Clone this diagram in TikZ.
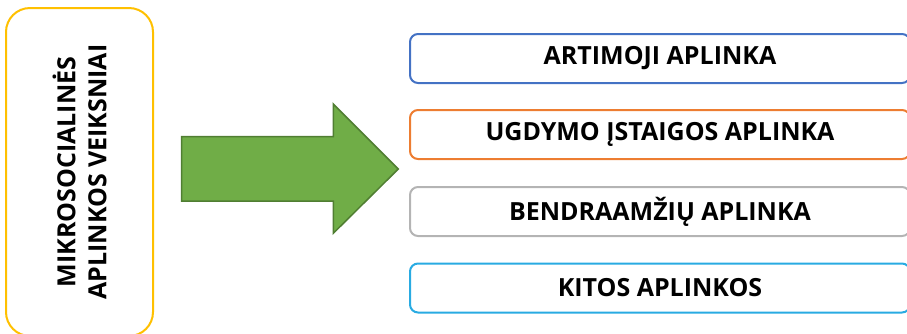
\documentclass[tikz,border=0pt]{standalone}
\usepackage{fontspec}
\setmainfont{Open Sans}
\definecolor{factorgold}{RGB}{255,192,0}
\definecolor{arrowgreen}{RGB}{112,173,71}
\definecolor{arrowedge}{RGB}{80,126,50}
\definecolor{envblue}{RGB}{68,114,196}
\definecolor{envorange}{RGB}{237,125,49}
\definecolor{envgray}{RGB}{180,180,180}
\definecolor{envcyan}{RGB}{41,171,226}
\tikzset{
  factorbox/.style={draw=factorgold, line width=2pt, rounded corners=24pt,
    rotate=90, minimum width=328pt, minimum height=147pt, align=center,
    font=\fontsize{25}{31}\selectfont\bfseries},
  envbox/.style={line width=2pt, rounded corners=8pt, minimum width=500pt,
    minimum height=49pt, inner sep=0pt, font=\fontsize{25}{31}\selectfont\bfseries}
}

\begin{document}
\begin{tikzpicture}[x=1pt,y=-1pt]
  \useasboundingbox (0,0) rectangle (907,333);
  \node[factorbox] (factors) at (79.5,172) {MIKROSOCIALINĖS\\APLINKOS VEIKSNIAI};
  % big arrow
  \draw[fill=arrowgreen, draw=arrowedge, line width=1.5pt, line join=miter]
    (181.7,136.7) -- (333.3,136.7) -- (333.3,104) -- (398.3,169)
    -- (333.3,233.3) -- (333.3,201) -- (181.7,201) -- cycle;
  \node[envbox, draw=envblue] (close) at (660,58.5) {ARTIMOJI APLINKA};
  \node[envbox, draw=envorange] (school) at (660,134.5) {UGDYMO ĮSTAIGOS APLINKA};
  \node[envbox, draw=envgray] (peers) at (660,211.5) {BENDRAAMŽIŲ APLINKA};
  \node[envbox, draw=envcyan] (other) at (660,288) {KITOS APLINKOS};
\end{tikzpicture}
\end{document}
